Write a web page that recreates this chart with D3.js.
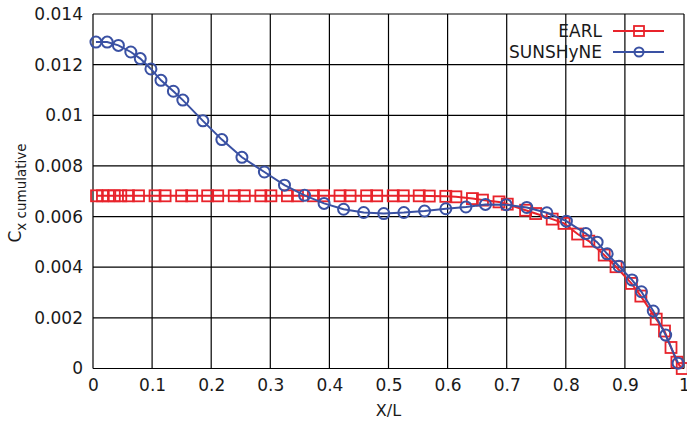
<!DOCTYPE html>
<html>
<head>
<meta charset="utf-8">
<script src="https://cdn.jsdelivr.net/npm/d3@7"></script>
<style>
  body { margin: 0; background: #fff; }
  svg { display: block; font-family: "DejaVu Sans", sans-serif; }
</style>
</head>
<body>
<div id="chart"></div>
<script>
// X/L stations and cumulative Cx
const seriesNames = ["EARL", "SUNSHyNE"];

const earlX = [0.006, 0.016, 0.026, 0.036, 0.047,
  0.060, 0.077, 0.105, 0.122, 0.150, 0.167, 0.194, 0.211, 0.239, 0.256,
  0.284, 0.301, 0.329, 0.346, 0.373, 0.390, 0.418, 0.435, 0.463, 0.480,
  0.508, 0.525, 0.552, 0.569, 0.597, 0.614, 0.642, 0.659, 0.687, 0.701,
  0.732, 0.749, 0.777, 0.797, 0.820, 0.839, 0.865, 0.885, 0.911, 0.927,
  0.953, 0.967, 0.978, 0.988, 0.997];
const earlCx = [0.00682, 0.00682, 0.00682, 0.00682, 0.00682,
  0.00682, 0.00682, 0.00682, 0.00682, 0.00682, 0.00682, 0.00682, 0.00682, 0.00682, 0.00682,
  0.00682, 0.00682, 0.00682, 0.00682, 0.00682, 0.00682, 0.00682, 0.00682, 0.00682, 0.00682,
  0.00682, 0.00682, 0.00682, 0.00681, 0.00680, 0.00678, 0.00671, 0.00665, 0.00658, 0.00649,
  0.00625, 0.00612, 0.00590, 0.00573, 0.00531, 0.00503, 0.00448, 0.00402, 0.00336, 0.00286,
  0.00195, 0.00148, 0.00083, 0.00025, 0.0];

const sunX = [0.005, 0.024, 0.043, 0.064, 0.080, 0.098, 0.115, 0.136, 0.152,
  0.186, 0.218, 0.252, 0.290, 0.324, 0.358, 0.391, 0.424, 0.458, 0.492,
  0.526, 0.561, 0.597, 0.631, 0.664, 0.699, 0.734, 0.768, 0.801, 0.834,
  0.853, 0.870, 0.890, 0.912, 0.928, 0.948, 0.969, 0.990];
const sunCx = [0.01289, 0.01289, 0.01276, 0.01250, 0.01224, 0.01183, 0.01138, 0.01095, 0.01060,
  0.00978, 0.00904, 0.00834, 0.00776, 0.00724, 0.00684, 0.00652, 0.00629, 0.00616, 0.00612,
  0.00616, 0.00622, 0.00631, 0.00638, 0.00648, 0.00647, 0.00636, 0.00615, 0.00582, 0.00533,
  0.00499, 0.00453, 0.00404, 0.00350, 0.00303, 0.00227, 0.00132, 0.00021];

const xTicks = [0, 0.1, 0.2, 0.3, 0.4, 0.5, 0.6, 0.7, 0.8, 0.9, 1];
const xTickLabels = ["0", "0.1", "0.2", "0.3", "0.4", "0.5", "0.6", "0.7", "0.8", "0.9", "1"];
const yTicks = [0, 0.002, 0.004, 0.006, 0.008, 0.01, 0.012, 0.014];
const yTickLabels = ["0", "0.002", "0.004", "0.006", "0.008", "0.01", "0.012", "0.014"];

const width = 687, height = 423;
const plot = { left: 93, right: 684, top: 14, bottom: 368.5 };
const red = "#e8232b";
const blue = "#3a51a3";
const fontSize = 17;

const svg = d3.select("#chart").append("svg")
  .attr("width", width)
  .attr("height", height);

const x = d3.scaleLinear().domain([0, 1]).range([plot.left, plot.right]);
const y = d3.scaleLinear().domain([0, 0.014]).range([plot.bottom, plot.top]);

// Grid
const g = svg.append("g");
g.selectAll("line.vgrid").data(xTicks).enter().append("line")
  .attr("x1", (d) => x(d)).attr("x2", (d) => x(d))
  .attr("y1", plot.top).attr("y2", plot.bottom)
  .attr("stroke", "#000").attr("stroke-width", 1.2);
g.selectAll("line.hgrid").data(yTicks).enter().append("line")
  .attr("y1", (d) => y(d)).attr("y2", (d) => y(d))
  .attr("x1", plot.left).attr("x2", plot.right)
  .attr("stroke", "#000").attr("stroke-width", 1.2);

// Axes (labels only, grid acts as ticks)
const xAxis = d3.axisBottom(x).tickValues(xTicks)
  .tickFormat((d, i) => xTickLabels[i]).tickSize(0).tickPadding(10);
svg.append("g")
  .attr("transform", `translate(0,${plot.bottom})`)
  .call(xAxis)
  .call((s) => s.select(".domain").remove())
  .selectAll("text")
  .attr("font-size", fontSize).attr("fill", "#1a1a1a")
  .attr("font-family", "DejaVu Sans");

const yAxis = d3.axisLeft(y).tickValues(yTicks)
  .tickFormat((d, i) => yTickLabels[i]).tickSize(0).tickPadding(10);
svg.append("g")
  .attr("transform", `translate(${plot.left},0)`)
  .call(yAxis)
  .call((s) => s.select(".domain").remove())
  .selectAll("text")
  .attr("font-size", fontSize).attr("fill", "#1a1a1a")
  .attr("font-family", "DejaVu Sans");

// Axis titles
svg.append("text")
  .attr("x", (plot.left + plot.right) / 2)
  .attr("y", 416)
  .attr("text-anchor", "middle")
  .attr("font-size", 16)
  .attr("fill", "#1a1a1a")
  .text("X/L");

const yTitle = svg.append("text")
  .attr("transform", `translate(21,193) rotate(-90)`)
  .attr("text-anchor", "middle")
  .attr("fill", "#1a1a1a");
yTitle.append("tspan").attr("font-size", 17).text("C");
yTitle.append("tspan").attr("font-size", 13.5).attr("dy", 5).text("x cumulative");

// Series
const earl = earlX.map((d, i) => ({ x: d, y: earlCx[i] }));
const sun = sunX.map((d, i) => ({ x: d, y: sunCx[i] }));

const line = d3.line().x((d) => x(d.x)).y((d) => y(d.y));

const sq = 11;
svg.append("path").datum(earl)
  .attr("fill", "none").attr("stroke", red).attr("stroke-width", 2)
  .attr("d", line);
svg.selectAll("rect.earl").data(earl).enter().append("rect")
  .attr("class", "earl")
  .attr("x", (d) => x(d.x) - sq / 2).attr("y", (d) => y(d.y) - sq / 2)
  .attr("width", sq).attr("height", sq)
  .attr("fill", "none").attr("stroke", red).attr("stroke-width", 1.8);

svg.append("path").datum(sun)
  .attr("fill", "none").attr("stroke", blue).attr("stroke-width", 2)
  .attr("d", line);
svg.selectAll("circle.sun").data(sun).enter().append("circle")
  .attr("class", "sun")
  .attr("cx", (d) => x(d.x)).attr("cy", (d) => y(d.y))
  .attr("r", 5.5)
  .attr("fill", "none").attr("stroke", blue).attr("stroke-width", 2);

// Legend
const legend = svg.append("g");
const legendRows = [
  { name: seriesNames[0], color: red, y: 31 },
  { name: seriesNames[1], color: blue, y: 52 }
];
legendRows.forEach((r, i) => {
  legend.append("text")
    .attr("x", 602).attr("y", r.y).attr("dy", "0.35em")
    .attr("text-anchor", "end").attr("font-size", fontSize).attr("fill", "#1a1a1a")
    .text(r.name);
  legend.append("line")
    .attr("x1", 613).attr("x2", 664).attr("y1", r.y).attr("y2", r.y)
    .attr("stroke", r.color).attr("stroke-width", 2);
  if (i === 0) {
    legend.append("rect")
      .attr("x", 639 - 5).attr("y", r.y - 5).attr("width", 10).attr("height", 10)
      .attr("fill", "none").attr("stroke", r.color).attr("stroke-width", 1.8);
  } else {
    legend.append("circle")
      .attr("cx", 639).attr("cy", r.y).attr("r", 4.5)
      .attr("fill", "none").attr("stroke", r.color).attr("stroke-width", 2);
  }
});
</script>
</body>
</html>
